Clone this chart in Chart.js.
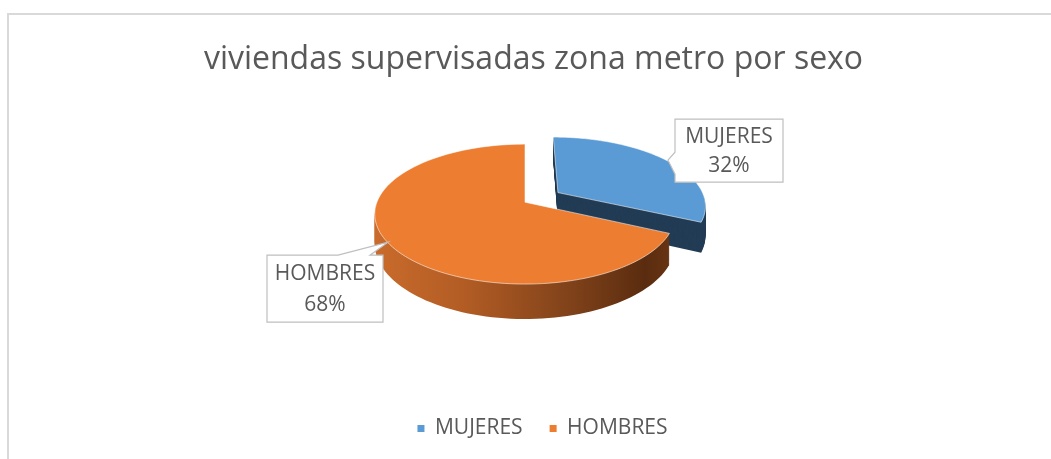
<!DOCTYPE html>
<html>
<head>
<meta charset="utf-8">
<script src="https://cdn.jsdelivr.net/npm/chart.js@4.4.1/dist/chart.umd.min.js"></script>
<style>
  html, body { margin: 0; padding: 0; background: #fff; }
  #wrap { width: 1051px; height: 459px; position: relative; }
</style>
</head>
<body>
<div id="wrap"><canvas id="pie3d" width="1051" height="459"></canvas></div>
<script>
// data
const categories = ['MUJERES', 'HOMBRES'];
const shares = [32, 68];
const topColors = ['#5B9BD5', '#ED7D31'];
const chartTitle = 'viviendas supervisadas zona metro por sexo';

const FONT = "'Open Sans', sans-serif";
const TEXT = '#595959';

// 3d look (Excel-like perspective)
const SQUASH_X = 0.987;
const SQUASH_Y = 0.453;
const PERSP = 0.17;            // front bigger than back
const DEPTH = 29;              // thickness in px
const EXPLODE = [0.27, 0];     // slice pulled out, fraction of radius
const pieNudge = { x: -8.5, y: -38 };
const legendNudge = 9;

const framePlugin = {
  id: 'frame',
  beforeDraw(chart) {
    const ctx = chart.ctx;
    ctx.save();
    ctx.fillStyle = '#fff';
    ctx.fillRect(0, 0, chart.width, chart.height);
    ctx.fillStyle = '#d9d9d9';
    ctx.fillRect(7, 13, 2, chart.height - 13);
    ctx.fillRect(7, 13, chart.width - 7, 2);
    ctx.restore();
  },
  afterLayout(chart) {
    // Excel centres the legend a little to the right of the title
    chart.legend.left += legendNudge;
    chart.legend.right += legendNudge;
  }
};

function pieCenter(chart) {
  const arc = chart.getDatasetMeta(0).data[0];
  return { x: arc.x + pieNudge.x, y: arc.y + pieNudge.y };
}

const pie3dPlugin = {
  id: 'pie3d',
  beforeDatasetsDraw(chart) {
    const ctx = chart.ctx;
    const arcs = chart.getDatasetMeta(0).data;
    const c = pieCenter(chart);
    const R = arcs[0].outerRadius;

    // circle point (un, vn) in radius units, t = 0 top .. 1 bottom
    const proj = (un, vn, t) => {
      const w = 1 / (1 - PERSP * vn);
      return [c.x + R * SQUASH_X * un * w, c.y + (R * SQUASH_Y * vn + DEPTH * t) * w];
    };

    const slicePath = (arc, i, t) => {
      const mid = (arc.startAngle + arc.endAngle) / 2;
      const ex = Math.cos(mid) * EXPLODE[i];
      const ey = Math.sin(mid) * EXPLODE[i];
      const steps = 120;
      ctx.beginPath();
      ctx.moveTo(...proj(ex, ey, t));
      for (let s = 0; s <= steps; s++) {
        const a = arc.startAngle + (arc.endAngle - arc.startAngle) * s / steps;
        ctx.lineTo(...proj(ex + Math.cos(a), ey + Math.sin(a), t));
      }
      ctx.closePath();
    };

    const orangeSide = ctx.createLinearGradient(c.x - R, 0, c.x + R, 0);
    orangeSide.addColorStop(0, '#c96b2c');
    orangeSide.addColorStop(0.3, '#b25c24');
    orangeSide.addColorStop(0.65, '#80421a');
    orangeSide.addColorStop(0.9, '#5a2c0f');
    orangeSide.addColorStop(1, '#6b3613');
    const sideFill = ['#223c55', orangeSide];

    ctx.save();
    // sides first
    const layers = DEPTH + 2;
    arcs.forEach((arc, i) => {
      for (let k = layers; k >= 1; k--) {
        slicePath(arc, i, k / layers);
        ctx.fillStyle = sideFill[i];
        ctx.fill();
      }
    });

    // top faces
    arcs.forEach((arc, i) => {
      slicePath(arc, i, 0);
      ctx.fillStyle = topColors[i];
      ctx.fill();
      ctx.lineWidth = 1;
      ctx.strokeStyle = 'rgba(255,255,255,0.55)';
      ctx.stroke();
    });
    ctx.restore();
    return false;
  }
};

// callout boxes, offsets from the pie centre
const callouts = [
  { box: [150, -83, 108, 63], pointer: [[0, 33], [-7, 41], [0, 55]] },
  { box: [-258, 53, 116, 67], pointer: [[71, 0], [121, -13], [103, 0]] }
];

const calloutPlugin = {
  id: 'callouts',
  afterDraw(chart) {
    const ctx = chart.ctx;
    const c = pieCenter(chart);
    const total = shares.reduce((a, b) => a + b, 0);
    callouts.forEach((co, i) => {
      const [bx, by, bw, bh] = co.box;
      const x = c.x + bx, y = c.y + by;
      const p = co.pointer.map(([px, py]) => [x + px, y + py]);
      ctx.save();
      ctx.beginPath();
      if (i === 0) {
        // pointer on the left edge
        ctx.moveTo(x, y);
        ctx.lineTo(x + bw, y);
        ctx.lineTo(x + bw, y + bh);
        ctx.lineTo(x, y + bh);
        ctx.lineTo(p[2][0], p[2][1]);
        ctx.lineTo(p[1][0], p[1][1]);
        ctx.lineTo(p[0][0], p[0][1]);
      } else {
        // pointer on the top edge
        ctx.moveTo(x, y);
        ctx.lineTo(p[0][0], p[0][1]);
        ctx.lineTo(p[1][0], p[1][1]);
        ctx.lineTo(p[2][0], p[2][1]);
        ctx.lineTo(x + bw, y);
        ctx.lineTo(x + bw, y + bh);
        ctx.lineTo(x, y + bh);
      }
      ctx.closePath();
      ctx.fillStyle = '#fff';
      ctx.fill();
      ctx.lineWidth = 1.2;
      ctx.strokeStyle = '#bfbfbf';
      ctx.stroke();

      ctx.fillStyle = TEXT;
      ctx.font = '21px ' + FONT;
      ctx.textAlign = 'center';
      ctx.textBaseline = 'middle';
      const pct = Math.round(shares[i] / total * 100) + '%';
      ctx.fillText(categories[i], x + bw / 2, y + bh * 0.28);
      ctx.fillText(pct, x + bw / 2, y + bh * 0.74);
      ctx.restore();
    });
  }
};

new Chart(document.getElementById('pie3d'), {
  type: 'pie',
  data: {
    labels: categories,
    datasets: [{
      data: shares,
      backgroundColor: topColors,
      borderWidth: 0
    }]
  },
  options: {
    responsive: false,
    animation: false,
    radius: 150,
    layout: {
      padding: { left: 16, right: 0, top: 14, bottom: 10 }
    },
    plugins: {
      title: {
        display: true,
        text: chartTitle,
        color: TEXT,
        font: { family: FONT, size: 32, weight: 'normal' },
        padding: { top: 27, bottom: 10 }
      },
      legend: {
        position: 'bottom',
        labels: {
          color: TEXT,
          font: { family: FONT, size: 21 },
          boxWidth: 7,
          boxHeight: 7,
          padding: 27
        }
      },
      tooltip: { enabled: false }
    }
  },
  plugins: [framePlugin, pie3dPlugin, calloutPlugin]
});
</script>
</body>
</html>
